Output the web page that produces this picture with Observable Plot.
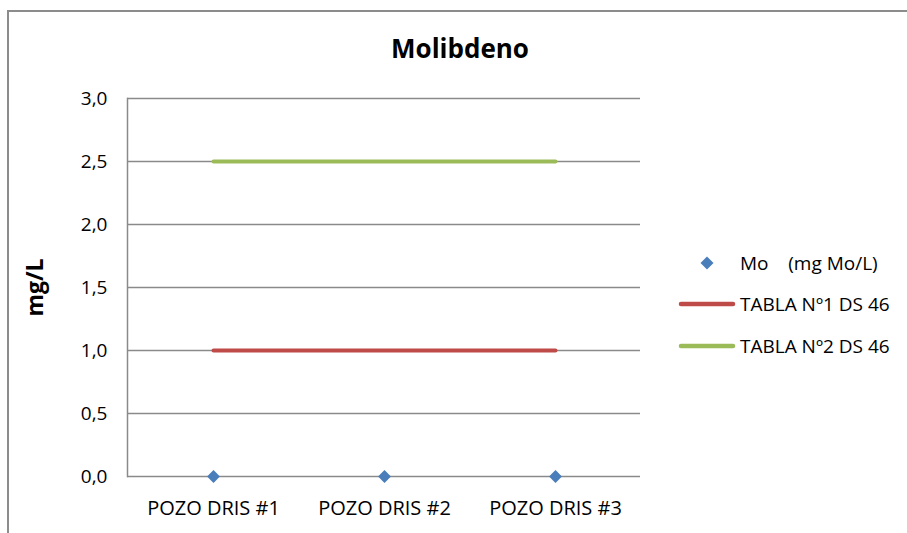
<!DOCTYPE html>
<html>
<head>
<meta charset="utf-8">
<script src="https://cdn.jsdelivr.net/npm/d3@7"></script>
<script src="https://cdn.jsdelivr.net/npm/@observablehq/plot@0.6"></script>
<style>
  html, body { margin: 0; padding: 0; background: #fff; overflow: hidden; }
  #wrap { position: relative; width: 907px; height: 533px; font-family: "Open Sans", sans-serif; }
  #frame { position: absolute; left: 7px; top: 10px; width: 920px; height: 600px;
           border-left: 2px solid #8c8c8c; border-top: 2px solid #8c8c8c; }
  #title { position: absolute; left: 0; top: 30px; width: 920px; text-align: center;
           font-weight: bold; font-size: 26px; line-height: 36px; color: #000; }
  #chart { position: absolute; left: 0; top: 0; }
  #legend { position: absolute; left: 678px; top: 242px; font-size: 19px; color: #000; }
  .item { display: flex; align-items: center; height: 41.5px; }
  .sw { width: 58px; height: 28px; display: flex; align-items: center; justify-content: center; margin-right: 4px; }
</style>
</head>
<body>
<div id="wrap">
  <div id="frame"></div>
  <div id="chart"></div>
  <div id="title">Molibdeno</div>
  <div id="legend"></div>
</div>
<script>
const categories = ["POZO DRIS #1", "POZO DRIS #2", "POZO DRIS #3"];
const moValues = [0, 0, 0];
const tabla1 = [1.0, 1.0, 1.0];
const tabla2 = [2.5, 2.5, 2.5];
const yTicks = [0, 0.5, 1.0, 1.5, 2.0, 2.5, 3.0];
const seriesNames = ["Mo    (mg Mo/L)", "TABLA Nº1 DS 46", "TABLA Nº2 DS 46"];
const colors = { mo: "#4a7ebb", t1: "#be4b48", t2: "#9bbb59" };

const moData = categories.map((c, i) => ({ cat: c, v: moValues[i] }));
const t1Data = categories.map((c, i) => ({ cat: c, v: tabla1[i] }));
const t2Data = categories.map((c, i) => ({ cat: c, v: tabla2[i] }));
const fmt = d => d.toFixed(1).replace(".", ",");

const plot = Plot.plot({
  width: 907,
  height: 533,
  marginLeft: 127,
  marginRight: 267,
  marginTop: 98,
  marginBottom: 57,
  style: { fontFamily: "Open Sans, sans-serif", fontSize: "19px", color: "#000", background: "transparent" },
  x: { type: "point", domain: categories, padding: 0.5, label: null },
  y: { domain: [0, 3], ticks: yTicks, label: null },
  marks: [
    Plot.ruleY(yTicks, { stroke: "#8a8a8a", strokeWidth: 1.5 }),
    Plot.frame({ anchor: "left", stroke: "#8a8a8a", strokeWidth: 1.5 }),
    Plot.axisY({ ticks: yTicks, tickFormat: fmt, tickSize: 0, tickPadding: 20, label: null, fontSize: 19 }),
    Plot.axisX({ tickSize: 0, tickPadding: 24, label: null, fontSize: 20 }),
    Plot.text(["mg/L"], { frameAnchor: "left", textAnchor: "middle", dx: -92, rotate: -90, fontWeight: "bold", fontSize: 23 }),
    Plot.line(t1Data, { x: "cat", y: "v", stroke: colors.t1, strokeWidth: 4, strokeLinecap: "round" }),
    Plot.line(t2Data, { x: "cat", y: "v", stroke: colors.t2, strokeWidth: 4, strokeLinecap: "round" }),
    Plot.dot(moData, { x: "cat", y: "v", symbol: "diamond2", r: 5.8, fill: colors.mo, stroke: null })
  ]
});
document.getElementById("chart").appendChild(plot);

const legend = document.getElementById("legend");
const swatches = [
  `<svg width="58" height="20"><path transform="translate(29,10)" d="M0,-6.5L6.5,0L0,6.5L-6.5,0Z" fill="${colors.mo}"/></svg>`,
  `<svg width="58" height="20"><line x1="3" x2="55" y1="10" y2="10" stroke="${colors.t1}" stroke-width="4.5" stroke-linecap="round"/></svg>`,
  `<svg width="58" height="20"><line x1="3" x2="55" y1="10" y2="10" stroke="${colors.t2}" stroke-width="4.5" stroke-linecap="round"/></svg>`
];
seriesNames.forEach((name, i) => {
  const div = document.createElement("div");
  div.className = "item";
  div.innerHTML = `<div class="sw">${swatches[i]}</div><span style="white-space:pre">${name}</span>`;
  legend.appendChild(div);
});
</script>
</body>
</html>
